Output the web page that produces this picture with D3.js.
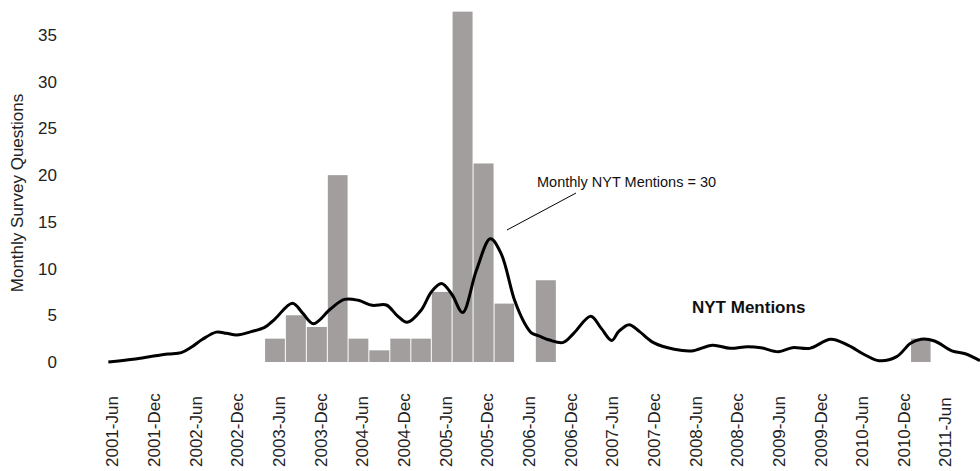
<!DOCTYPE html>
<html>
<head>
<meta charset="utf-8">
<script src="https://cdn.jsdelivr.net/npm/d3@7"></script>
<style>
  body { margin: 0; background: #fff; }
  text { font-family: Arial, "Liberation Sans", sans-serif; }
</style>
</head>
<body>
<div id="chart"></div>
<script>
// quarterly survey questions (bar starts at first month of quarter)
const surveyQuarters = ["2003-04", "2003-07", "2003-10", "2004-01", "2004-04", "2004-07", "2004-10",
  "2005-01", "2005-04", "2005-07", "2005-10", "2006-01", "2006-07", "2011-01"];
const surveyValues = [2.5, 5, 3.75, 20, 2.5, 1.25, 2.5, 2.5, 7.5, 37.5, 21.25, 6.25, 8.75, 2.5];

// NYT mentions curve (in survey-axis units)
const nytDates = ["2001-05-16", "2001-09-01", "2001-12-01", "2002-02-01", "2002-04-01", "2002-05-16",
  "2002-07-01", "2002-09-01", "2002-10-16", "2002-12-01", "2003-02-01", "2003-04-01", "2003-05-16",
  "2003-08-01", "2003-09-16", "2003-11-01", "2004-01-16", "2004-03-16", "2004-05-16", "2004-07-16",
  "2004-09-16", "2004-11-01", "2004-12-16", "2005-02-16", "2005-04-01", "2005-05-16", "2005-07-01",
  "2005-08-16", "2005-10-16", "2005-12-16", "2006-02-01", "2006-04-01", "2006-05-16", "2006-06-16",
  "2006-07-16", "2006-09-01", "2006-11-01", "2006-12-16", "2007-03-01", "2007-04-16", "2007-06-01",
  "2007-07-01", "2007-08-16", "2007-10-01", "2007-12-01", "2008-03-01", "2008-05-16", "2008-08-16",
  "2008-11-01", "2009-01-16", "2009-03-16", "2009-06-01", "2009-08-01", "2009-10-16", "2010-01-16",
  "2010-04-01", "2010-06-16", "2010-08-16", "2010-11-01", "2011-01-01", "2011-02-16", "2011-04-16",
  "2011-07-01", "2011-09-01", "2011-11-01"];
const nytValues = [0, 0.3, 0.64, 0.86, 1.0, 1.6,
  2.4, 3.2, 3.07, 2.9, 3.25, 3.7, 4.6,
  6.3, 5.2, 4.1, 5.7, 6.7, 6.6, 6.07,
  6.1, 5.0, 4.25, 5.57, 7.5, 8.4, 7.2,
  5.3, 9.85, 13.2, 11.6, 6.6, 4.1, 3.07,
  2.8, 2.35, 2.1, 3.07, 4.9, 3.6, 2.3,
  3.25, 4.0, 3.25, 2.07, 1.36, 1.18, 1.8,
  1.46, 1.64, 1.53, 1.1, 1.53, 1.46, 2.43,
  1.8, 0.75, 0.14, 0.57, 2.0, 2.43, 2.25,
  1.2, 0.86, 0.14];

const tickMonths = ["2001-06", "2001-12", "2002-06", "2002-12", "2003-06", "2003-12", "2004-06",
  "2004-12", "2005-06", "2005-12", "2006-06", "2006-12", "2007-06", "2007-12", "2008-06",
  "2008-12", "2009-06", "2009-12", "2010-06", "2010-12", "2011-06"];
const yTicks = [0, 5, 10, 15, 20, 25, 30, 35];

let width = 980, height = 471;

let svg = d3.select('#chart')
  .append('svg')
  .attr('width', width)
  .attr('height', height);

const parseMonth = d3.timeParse("%Y-%m");
const parseDay = d3.timeParse("%Y-%m-%d");

let xScale = d3.scaleTime()
  .domain([parseMonth("2001-06"), parseMonth("2011-06")])
  .range([112, 945]);

let yScale = d3.scaleLinear()
  .domain([0, 35])
  .range([362, 35]);

// y axis
let yAxis = svg.append('g')
  .attr('transform', 'translate(60, 0)')
  .call(d3.axisLeft(yScale).tickValues(yTicks).tickSize(0).tickPadding(3));
yAxis.select('.domain').remove();
yAxis.selectAll('text')
  .style('font-size', '17px')
  .style('font-family', 'Arial, "Liberation Sans", sans-serif')
  .attr('fill', '#222');

// x axis, rotated labels
let xAxis = svg.append('g')
  .attr('transform', 'translate(0, 467)')
  .call(d3.axisBottom(xScale)
    .tickValues(tickMonths.map(parseMonth))
    .tickFormat(d3.timeFormat("%Y-%b"))
    .tickSize(0));
xAxis.select('.domain').remove();
xAxis.selectAll('text')
  .attr('x', 0)
  .attr('y', 0)
  .attr('dy', '0.35em')
  .attr('transform', 'rotate(-90)')
  .style('text-anchor', 'start')
  .style('font-size', '17px')
  .style('font-family', 'Arial, "Liberation Sans", sans-serif')
  .attr('fill', '#222');

// y label
svg.append('text')
  .attr('transform', 'translate(23, 193) rotate(-90)')
  .style('text-anchor', 'middle')
  .style('font-size', '17px')
  .attr('fill', '#222')
  .text('Monthly Survey Questions');

// bars
svg.selectAll('rect.bar')
  .data(surveyQuarters)
  .enter()
  .append('rect')
  .attr('class', 'bar')
  .attr('x', d => xScale(parseMonth(d)) + 0.5)
  .attr('width', d => xScale(d3.timeMonth.offset(parseMonth(d), 3)) - xScale(parseMonth(d)) - 1)
  .attr('y', (d, i) => yScale(surveyValues[i]))
  .attr('height', (d, i) => yScale(0) - yScale(surveyValues[i]))
  .attr('fill', '#a19e9d');

// NYT line
let line = d3.line()
  .x((d, i) => xScale(parseDay(d)))
  .y((d, i) => yScale(nytValues[i]))
  .curve(d3.curveCatmullRom.alpha(0.5));

svg.append('path')
  .datum(nytDates)
  .attr('d', line)
  .attr('fill', 'none')
  .attr('stroke', '#000')
  .attr('stroke-width', 3);

// annotations
svg.append('line')
  .attr('x1', 507).attr('y1', 230)
  .attr('x2', 576).attr('y2', 193)
  .attr('stroke', '#000')
  .attr('stroke-width', 1);

svg.append('text')
  .attr('x', 537)
  .attr('y', 187)
  .style('font-size', '14.5px')
  .attr('fill', '#111')
  .text('Monthly NYT Mentions = 30');

svg.append('text')
  .attr('x', 692)
  .attr('y', 313)
  .style('font-size', '17px')
  .style('font-weight', 'bold')
  .attr('fill', '#111')
  .text('NYT Mentions');
</script>
</body>
</html>
